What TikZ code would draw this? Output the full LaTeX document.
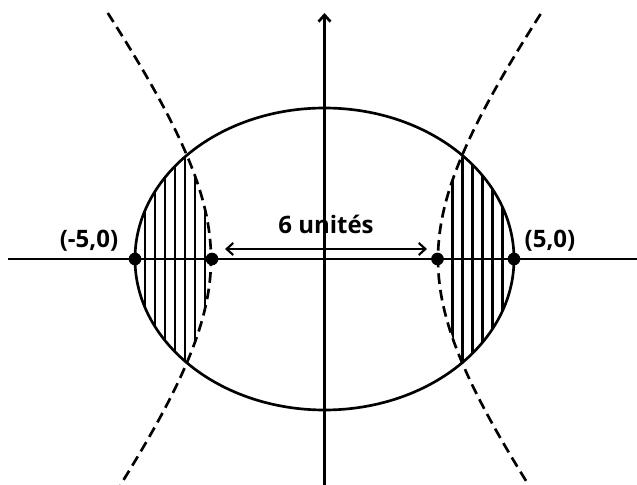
\documentclass[tikz,border=0pt]{standalone}
\usepackage{fontspec}
\setmainfont{Open Sans}
\usetikzlibrary{arrows.meta}

\tikzset{every picture/.style={line width=2pt}}
\tikzset{
  dot/.style={circle, fill=black, inner sep=0pt, minimum size=9.5pt},
  ptlabel/.style={font=\fontsize{18}{22}\selectfont\bfseries, inner sep=0.75pt, anchor=base},
  branch/.style={dash pattern=on 8pt off 4.5pt},
  barb/.style={-{Straight Barb[length=5pt,width=9pt]}},
  twobarb/.style={{Straight Barb[length=5pt,width=9pt]}-{Straight Barb[length=5pt,width=9pt]}}
}

\begin{document}
\begin{tikzpicture}[x=0.75pt,y=0.75pt,yscale=-1,xscale=1]
\useasboundingbox (0,0) rectangle (637,485);

%Shape: Ellipse [x^2/25 + y^2/16 = 1]
\draw (324.5,259) ellipse (189.5 and 151);

%Hatching: left region
\begin{scope}
\clip (324.5,259) ellipse (189.5 and 151);
\clip plot[domain=90:430, samples=60] ({324.5-113.5*sqrt(1+((\x-259)/151.2)^2)},\x) -- (0,430) -- (0,90) -- cycle;
\foreach \hx in {145,155,...,205} \draw (\hx,90) -- (\hx,430);
\end{scope}
%Hatching: right region
\begin{scope}
\clip (324.5,259) ellipse (189.5 and 151);
\clip plot[domain=90:430, samples=60] ({324.5+113.5*sqrt(1+((\x-259)/151.2)^2)},\x) -- (637,430) -- (637,90) -- cycle;
\foreach \hx in {452.7,462.7,...,503} \draw (\hx,90) -- (\hx,430);
\end{scope}

%Shape: Hyperbola [x^2/9 - y^2/16 = 1]
\draw[branch] plot[domain=13:485, samples=80] ({324.5-113.5*sqrt(1+((\x-259)/151.2)^2)},\x);
\draw[branch] plot[domain=14:485, samples=80] ({324.5+113.5*sqrt(1+((\x-259)/151.2)^2)},\x);

%Axes
\coordinate (xleft) at (8,259);
\coordinate (xright) at (637,259);
\coordinate (ybottom) at (324.5,485);
\coordinate (ytop) at (324.5,13);
\draw (xleft) -- (xright);
\draw[barb] (ybottom) -- (ytop);

%Points
\node[dot] (m5) at (135,259) {};
\node[dot] (m3) at (212,259) {};
\node[dot] (p3) at (437.5,259) {};
\node[dot] (p5) at (514,259) {};

%Distance arrow
\coordinate (distleft) at (225,249);
\coordinate (distright) at (427,249);
\draw[twobarb, line width=1.6pt] (distleft) -- (distright);

% Text Node
\node[ptlabel] (distlabel) at (326,234) {6 unités};
% Text Node
\node[ptlabel] (m5label) at (89,248) {(-5,0)};
% Text Node
\node[ptlabel] (p5label) at (550,248) {(5,0)};

\end{tikzpicture}
\end{document}
